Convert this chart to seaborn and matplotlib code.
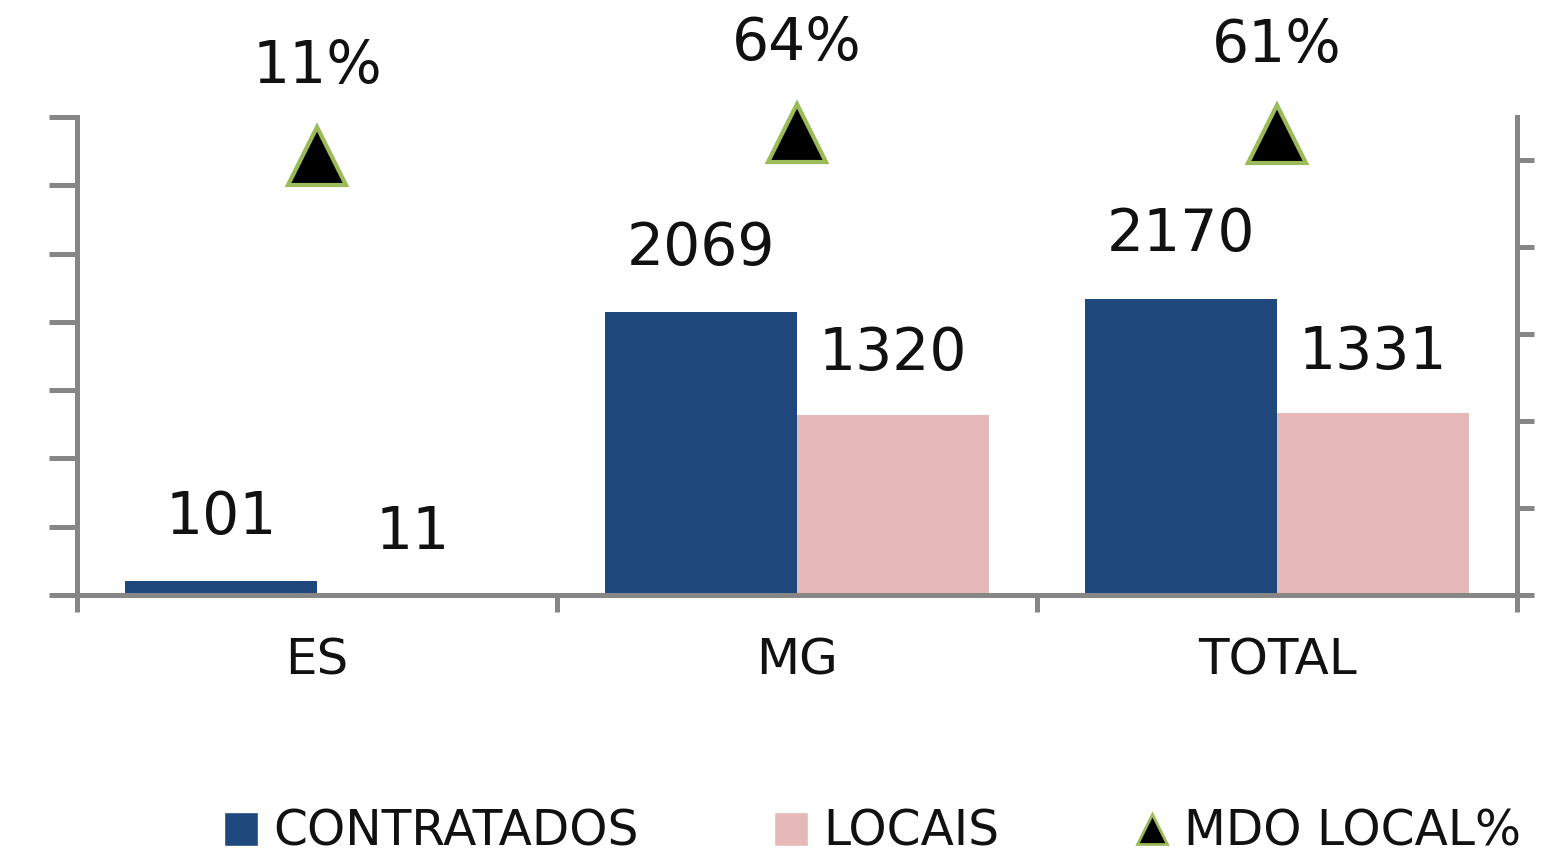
import pandas as pd
import seaborn as sns
import matplotlib.pyplot as plt
from matplotlib.lines import Line2D
from matplotlib.patches import Patch

# data
categories = ["ES", "MG", "TOTAL"]
contratados = [101, 2069, 2170]
locais = [11, 1320, 1331]
mdo_local_pct = [0.11, 0.64, 0.61]
pct_labels = ["11%", "64%", "61%"]

navy = "#1F497D"
pink = "#E6B9B8"
green = "#9BBB59"
grey = "#868686"

df = pd.DataFrame({
    "cat": categories * 2,
    "serie": ["CONTRATADOS"] * 3 + ["LOCAIS"] * 3,
    "valor": contratados + locais,
})
pct_df = pd.DataFrame({"cat": categories, "pct": mdo_local_pct})

sns.set_style("white")
plt.rcParams["font.family"] = ["DejaVu Sans"]

fig = plt.figure(figsize=(15.58, 8.65), dpi=100)
ax = fig.add_axes([0.0494, 0.3121, 0.9243, 0.5526])

sns.barplot(data=df, x="cat", y="valor", hue="serie", order=categories,
            palette=[navy, pink], width=0.8, gap=0, ax=ax, legend=False,
            saturation=1, linewidth=0)
ax.set_ylim(0, 3500)
ax.set_yticks(range(0, 3501, 500))
ax.set_yticklabels([])
ax.set_xlabel("")
ax.set_ylabel("")

# bar value labels
for i, v in enumerate(contratados):
    ax.annotate(str(v), (i - 0.2, v), xytext=(0, 46), textcoords="offset points",
                ha="center", va="center", fontsize=42, color="#111111")
for i, v in enumerate(locais):
    ax.annotate(str(v), (i + 0.2, v), xytext=(0, 44), textcoords="offset points",
                ha="center", va="center", fontsize=42, color="#111111")

# secondary axis with triangles
ax2 = ax.twinx()
sns.pointplot(data=pct_df, x="cat", y="pct", order=categories, linestyle="none",
              markers="^", color="black", markersize=42, markeredgecolor=green,
              markeredgewidth=3, ax=ax2)
for ln in ax2.lines:
    ln.set_clip_on(False)
for c in ax2.collections:
    c.set_clip_on(False)
ax2.set_ylim(-10, 1)
ax2.set_yticks(range(-10, 1, 2))
ax2.set_yticklabels([])
ax2.set_ylabel("")
ax2.set_xlabel("")
for i, v in enumerate(mdo_local_pct):
    ax2.annotate(pct_labels[i], (i, v), xytext=(0, 64), textcoords="offset points",
                 ha="center", va="center", fontsize=42, color="#111111")

for a in (ax, ax2):
    a.set_xlim(-0.5, 2.5)
    for s in a.spines.values():
        s.set_color(grey)
        s.set_linewidth(3.6)
    a.spines["top"].set_visible(False)

ax.set_xticks(range(3))
ax.set_xticklabels(categories)
ax.set_xticks([-0.5, 0.5, 1.5, 2.5], minor=True)
ax.tick_params(axis="x", which="major", length=0, pad=30, labelsize=36,
               labelcolor="#111111")
ax.tick_params(axis="x", which="minor", length=12, width=3.6, color=grey,
               direction="out", bottom=True)
ax.tick_params(axis="y", length=20, width=3.6, color=grey, direction="out", left=True)
ax2.tick_params(axis="y", length=12, width=3.6, color=grey, direction="out", right=True)
ax2.tick_params(axis="x", which="both", bottom=False, labelbottom=False)

handles = [
    Patch(facecolor=navy, label="CONTRATADOS"),
    Patch(facecolor=pink, label="LOCAIS"),
    Line2D([], [], linestyle="none", marker="^", markersize=22, color="black",
           markeredgecolor=green, markeredgewidth=2, label="MDO LOCAL%"),
]
fig.legend(handles=handles, loc="center", bbox_to_anchor=(0.56, 1 - 832 / 865),
           ncol=3, frameon=False, fontsize=35, handlelength=0.7, handleheight=0.7,
           handletextpad=0.3, columnspacing=2.8, labelcolor="#111111",
           borderpad=0.1)

fig.savefig("out.png", dpi=100)
